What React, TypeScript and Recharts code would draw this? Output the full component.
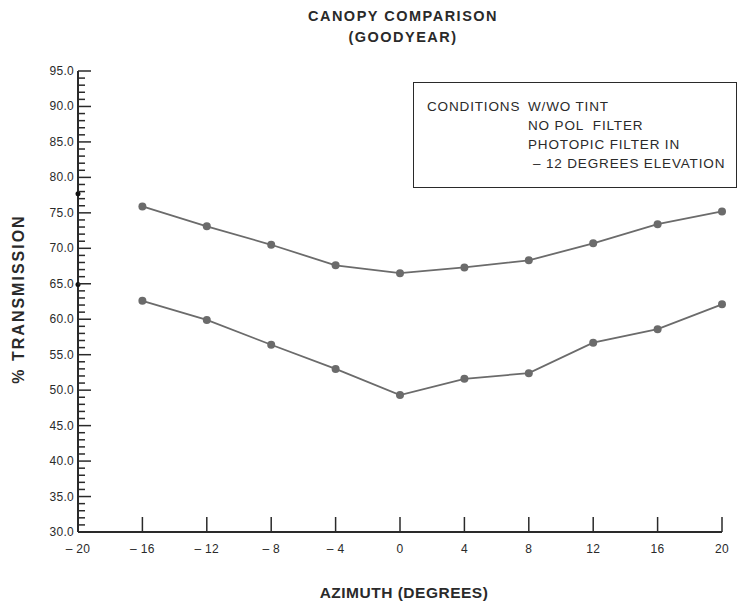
import React from "react";
import { ComposedChart, Line, XAxis, YAxis } from "recharts";

const azimuth = [-16, -12, -8, -4, 0, 4, 8, 12, 16, 20];
const upperTransmission = [75.9, 73.1, 70.5, 67.6, 66.5, 67.3, 68.3, 70.7, 73.4, 75.2];
const lowerTransmission = [62.6, 59.9, 56.4, 53.0, 49.3, 51.6, 52.4, 56.7, 58.6, 62.1];
// marks sitting on the y axis at azimuth -20
const edgeAzimuth = [-20, -20];
const edgeTransmission = [77.7, 64.9];

const xTicks = [-20, -16, -12, -8, -4, 0, 4, 8, 12, 16, 20];
const yTicks = Array.from({ length: 66 }, (_, i) => 30 + i);

const conditions = ["W/WO TINT", "NO POL  FILTER", "PHOTOPIC FILTER IN", "\u2013 12 DEGREES ELEVATION"];

const upperData = azimuth.map((x, i) => ({ x, v: upperTransmission[i] }));
const lowerData = azimuth.map((x, i) => ({ x, v: lowerTransmission[i] }));
const edgeData = edgeAzimuth.map((x, i) => ({ x, v: edgeTransmission[i] }));

const FONT = "'Liberation Sans', Arial, sans-serif";
const INK = "#2a2a2a";
const LINE = "#6b6b6b";

function YTick(props: any) {
  const { x, y, payload } = props;
  const major = payload.value % 5 === 0;
  return (
    <g>
      <line x1={x} x2={x + (major ? 13 : 7)} y1={y} y2={y} stroke={INK} strokeWidth={1.5} />
      {major && (
        <text x={x - 4} y={y + 4} textAnchor="end" fontSize={12} fill={INK} fontFamily={FONT} letterSpacing={0.3}>
          {payload.value.toFixed(1)}
        </text>
      )}
    </g>
  );
}

function XTick(props: any) {
  const { x, y, payload } = props;
  const v = payload.value;
  const label = v < 0 ? `\u2013 ${Math.abs(v)}` : String(v);
  return (
    <g>
      {v !== -20 && <line x1={x} x2={x} y1={y} y2={y - 15} stroke={INK} strokeWidth={1.5} />}
      <text x={x} y={y + 21} textAnchor="middle" fontSize={12} fill={INK} fontFamily={FONT} letterSpacing={0.3}>
        {label}
      </text>
    </g>
  );
}

export default function App() {
  return (
    <div style={{ position: "relative", width: 741, height: 605, background: "#fff", fontFamily: FONT }}>
      <style>{"body{margin:0}"}</style>
      <ComposedChart width={741} height={605} margin={{ top: 71, right: 19, left: 18, bottom: 43 }}>
        <XAxis
          type="number"
          dataKey="x"
          domain={[-20, 20]}
          ticks={xTicks}
          tick={<XTick />}
          tickSize={0}
          tickMargin={0}
          tickLine={false}
          axisLine={{ stroke: INK, strokeWidth: 2 }}
          height={30}
          allowDuplicatedCategory={false}
        />
        <YAxis
          type="number"
          domain={[30, 95]}
          ticks={yTicks}
          interval={0}
          tick={<YTick />}
          tickSize={0}
          tickMargin={0}
          tickLine={false}
          axisLine={{ stroke: INK, strokeWidth: 2 }}
          width={60}
        />
        <Line
          data={upperData}
          dataKey="v"
          stroke={LINE}
          strokeWidth={1.8}
          dot={{ r: 4, fill: LINE, stroke: "none" }}
          isAnimationActive={false}
        />
        <Line
          data={lowerData}
          dataKey="v"
          stroke={LINE}
          strokeWidth={1.8}
          dot={{ r: 4, fill: LINE, stroke: "none" }}
          isAnimationActive={false}
        />
        <Line
          data={edgeData}
          dataKey="v"
          stroke="none"
          dot={{ r: 2.5, fill: "#111", stroke: "none" }}
          isAnimationActive={false}
        />
      </ComposedChart>

      <div
        style={{
          position: "absolute",
          left: 0,
          width: 806,
          top: 6,
          textAlign: "center",
          fontWeight: 700,
          fontSize: 14.5,
          letterSpacing: 1.5,
          color: INK,
          lineHeight: "21px",
        }}
      >
        CANOPY COMPARISON
        <br />
        (GOODYEAR)
      </div>
      <div
        style={{
          position: "absolute",
          left: 0,
          width: 808,
          top: 583,
          textAlign: "center",
          fontWeight: 700,
          fontSize: 15.5,
          letterSpacing: 0.5,
          color: INK,
          lineHeight: "20px",
        }}
      >
        AZIMUTH (DEGREES)
      </div>
      <div
        style={{
          position: "absolute",
          left: 19,
          top: 299,
          transform: "translate(-50%, -50%) rotate(-90deg)",
          fontWeight: 700,
          fontSize: 16,
          letterSpacing: 2,
          color: INK,
          whiteSpace: "nowrap",
        }}
      >
        % TRANSMISSION
      </div>
      <div
        style={{
          position: "absolute",
          left: 413,
          top: 82,
          width: 324,
          height: 106,
          border: `1.5px solid ${INK}`,
          boxSizing: "border-box",
          fontSize: 13.5,
          letterSpacing: 0.85,
          color: INK,
          lineHeight: "19px",
        }}
      >
        <div style={{ position: "absolute", left: 13, top: 14 }}>CONDITIONS</div>
        <div style={{ position: "absolute", left: 114, top: 14 }}>
          {conditions.map((c, i) => (
            <div key={i} style={{ whiteSpace: "pre", marginLeft: i === 3 ? 5 : 0 }}>{c}</div>
          ))}
        </div>
      </div>
    </div>
  );
}
